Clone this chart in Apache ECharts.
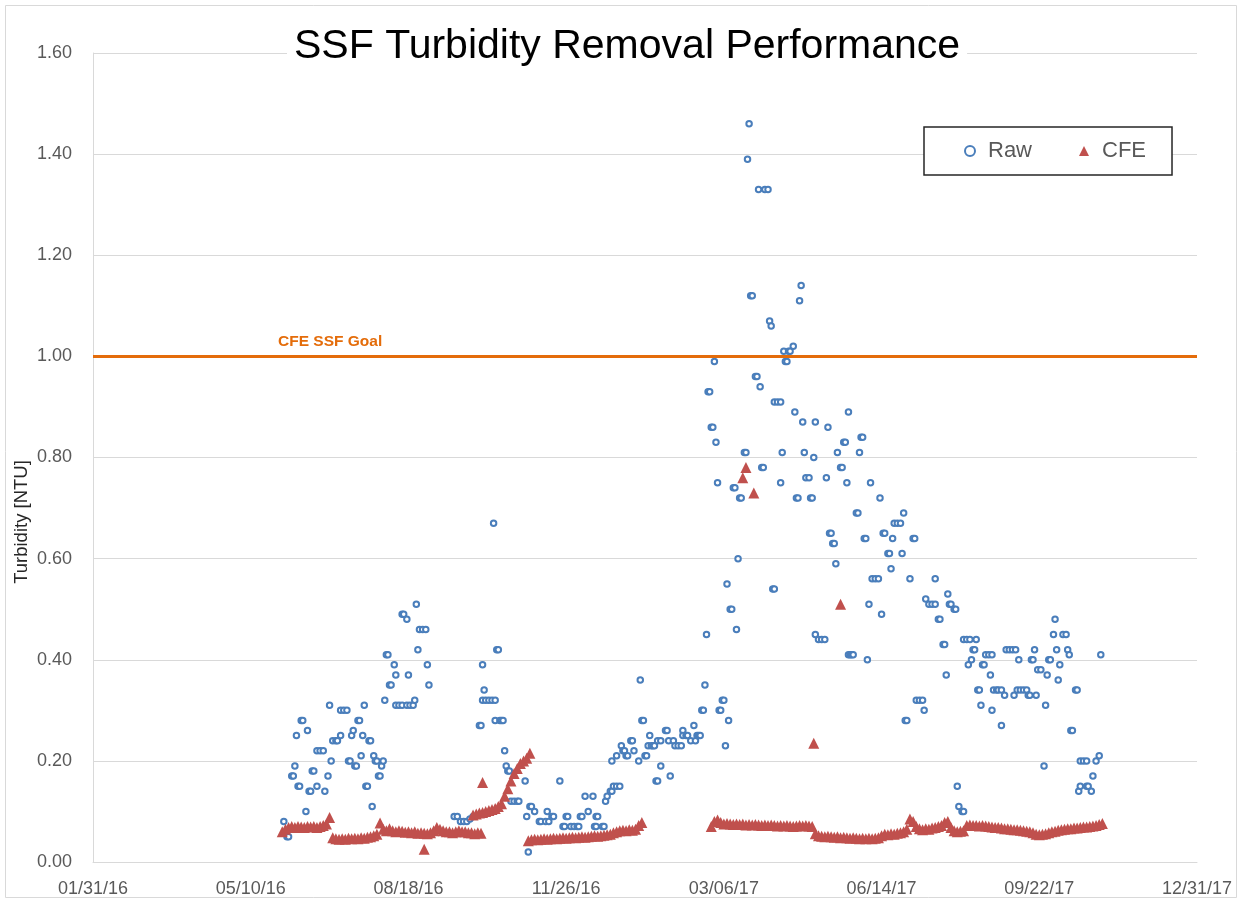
<!DOCTYPE html>
<html>
<head>
<meta charset="utf-8">
<title>SSF Turbidity Removal Performance</title>
<script src="https://cdn.jsdelivr.net/npm/echarts@6/dist/echarts.min.js"></script>
<style>
  html, body { margin: 0; padding: 0; background: #fff; }
  #chart { width: 1243px; height: 903px; }
</style>
</head>
<body>
<div id="chart"></div>
<script>
// dates are Excel serial day numbers (42400 = 01/31/16)
const xTicks = { min: 42400, max: 43100, step: 100 }
const yTicks = { min: 0, max: 1.6, step: 0.2 }
const goalValue = 1.0
const goalLabel = 'CFE SSF Goal'

// Raw turbidity samples
const rawDates = [
  42521, 42523, 42524, 42526, 42527, 42528, 42529, 42530, 42531, 42532, 42533, 42535, 42536, 42537, 42538, 42539,
  42540, 42542, 42542, 42544, 42546, 42547, 42549, 42550, 42551, 42552, 42554, 42555, 42557, 42557, 42559, 42561,
  42562, 42563, 42564, 42565, 42566, 42567, 42568, 42569, 42570, 42571, 42572, 42573, 42574, 42575, 42576, 42577,
  42578, 42579, 42580, 42581, 42582, 42583, 42584, 42585, 42586, 42587, 42588, 42589, 42591, 42592, 42592, 42594,
  42596, 42596, 42597, 42599, 42599, 42600, 42601, 42603, 42604, 42605, 42606, 42607, 42609, 42611, 42612, 42613,
  42629, 42631, 42633, 42635, 42637, 42639, 42641, 42645, 42646, 42647, 42647, 42648, 42649, 42651, 42653, 42654,
  42655, 42655, 42656, 42657, 42658, 42659, 42660, 42661, 42662, 42663, 42664, 42665, 42667, 42669, 42670, 42674,
  42675, 42676, 42677, 42678, 42680, 42683, 42684, 42687, 42688, 42689, 42691, 42692, 42696, 42698, 42699, 42700,
  42701, 42703, 42705, 42707, 42708, 42709, 42710, 42712, 42714, 42717, 42718, 42719, 42719, 42720, 42723, 42724,
  42725, 42726, 42728, 42729, 42729, 42730, 42732, 42732, 42734, 42735, 42736, 42737, 42738, 42739, 42741, 42742,
  42743, 42746, 42747, 42748, 42749, 42750, 42751, 42752, 42753, 42754, 42755, 42756, 42757, 42758, 42758, 42760,
  42760, 42763, 42764, 42765, 42766, 42768, 42769, 42771, 42773, 42774, 42774, 42776, 42777, 42779, 42781, 42782,
  42783, 42784, 42785, 42786, 42787, 42788, 42789, 42790, 42791, 42792, 42793, 42794, 42795, 42796, 42797, 42798,
  42799, 42800, 42801, 42802, 42803, 42804, 42805, 42806, 42807, 42808, 42809, 42810, 42811, 42813, 42814, 42815,
  42816, 42817, 42818, 42820, 42821, 42822, 42823, 42824, 42825, 42826, 42828, 42829, 42830, 42831, 42832, 42832,
  42834, 42836, 42836, 42837, 42838, 42839, 42840, 42841, 42842, 42844, 42845, 42846, 42847, 42848, 42849, 42850,
  42851, 42852, 42854, 42855, 42856, 42857, 42858, 42858, 42860, 42862, 42864, 42865, 42866, 42867, 42868, 42869,
  42870, 42871, 42872, 42874, 42875, 42876, 42877, 42878, 42879, 42879, 42880, 42881, 42882, 42884, 42885, 42886,
  42887, 42888, 42889, 42890, 42891, 42892, 42893, 42894, 42896, 42898, 42899, 42900, 42901, 42902, 42904, 42905,
  42906, 42907, 42908, 42910, 42912, 42913, 42914, 42915, 42916, 42918, 42920, 42921, 42922, 42924, 42926, 42927,
  42928, 42930, 42932, 42934, 42934, 42936, 42937, 42939, 42940, 42941, 42942, 42943, 42944, 42946, 42947, 42948,
  42949, 42951, 42952, 42952, 42954, 42955, 42956, 42957, 42958, 42959, 42960, 42961, 42962, 42963, 42964, 42965,
  42966, 42968, 42969, 42970, 42970, 42971, 42973, 42974, 42976, 42976, 42978, 42979, 42981, 42983, 42984, 42985,
  42986, 42987, 42988, 42990, 42992, 42993, 42994, 42995, 42996, 42997, 42998, 42999, 43001, 43003, 43004, 43005,
  43006, 43007, 43009, 43010, 43011, 43012, 43013, 43015, 43017, 43018, 43019, 43020, 43021, 43023, 43024, 43025,
  43026, 43026, 43028, 43030, 43030, 43031, 43033, 43034, 43036, 43038, 43039
]
const rawValues = [
  0.08, 0.05, 0.05, 0.17, 0.17, 0.19, 0.25, 0.15, 0.15, 0.28, 0.28, 0.10, 0.26, 0.14, 0.14, 0.18,
  0.18, 0.15, 0.22, 0.22, 0.22, 0.14, 0.17, 0.31, 0.20, 0.24, 0.24, 0.24, 0.25, 0.30, 0.30, 0.30,
  0.20, 0.20, 0.25, 0.26, 0.19, 0.19, 0.28, 0.28, 0.21, 0.25, 0.31, 0.15, 0.15, 0.24, 0.24, 0.11,
  0.21, 0.20, 0.20, 0.17, 0.17, 0.19, 0.20, 0.32, 0.41, 0.41, 0.35, 0.35, 0.39, 0.37, 0.31, 0.31,
  0.31, 0.49, 0.49, 0.48, 0.31, 0.37, 0.31, 0.31, 0.32, 0.51, 0.42, 0.46, 0.46, 0.46, 0.39, 0.35,
  0.09, 0.09, 0.08, 0.08, 0.08, 0.085, 0.09, 0.27, 0.27, 0.39, 0.32, 0.34, 0.32, 0.32, 0.32, 0.67,
  0.32, 0.28, 0.42, 0.42, 0.28, 0.28, 0.28, 0.22, 0.19, 0.18, 0.18, 0.12, 0.12, 0.12, 0.12, 0.16,
  0.09, 0.02, 0.11, 0.11, 0.10, 0.08, 0.08, 0.08, 0.10, 0.08, 0.09, 0.09, 0.16, 0.07, 0.07, 0.09,
  0.09, 0.07, 0.07, 0.07, 0.07, 0.09, 0.09, 0.13, 0.10, 0.13, 0.07, 0.07, 0.09, 0.09, 0.07, 0.07,
  0.12, 0.13, 0.14, 0.14, 0.20, 0.15, 0.15, 0.21, 0.15, 0.23, 0.22, 0.22, 0.21, 0.21, 0.24, 0.24,
  0.22, 0.20, 0.36, 0.28, 0.28, 0.21, 0.21, 0.23, 0.25, 0.23, 0.23, 0.23, 0.16, 0.16, 0.24, 0.19,
  0.24, 0.26, 0.26, 0.24, 0.17, 0.24, 0.23, 0.23, 0.23, 0.26, 0.25, 0.25, 0.25, 0.24, 0.27, 0.24,
  0.25, 0.25, 0.25, 0.30, 0.30, 0.35, 0.45, 0.93, 0.93, 0.86, 0.86, 0.99, 0.83, 0.75, 0.30, 0.30,
  0.32, 0.32, 0.23, 0.55, 0.28, 0.50, 0.50, 0.74, 0.74, 0.46, 0.60, 0.72, 0.72, 0.81, 0.81, 1.39,
  1.46, 1.12, 1.12, 0.96, 0.96, 1.33, 0.94, 0.78, 0.78, 1.33, 1.33, 1.07, 1.06, 0.54, 0.54, 0.91,
  0.91, 0.91, 0.75, 0.81, 1.01, 0.99, 0.99, 1.01, 1.01, 1.02, 0.89, 0.72, 0.72, 1.11, 1.14, 0.87,
  0.81, 0.76, 0.76, 0.72, 0.72, 0.80, 0.87, 0.45, 0.44, 0.44, 0.44, 0.76, 0.86, 0.65, 0.65, 0.63,
  0.63, 0.59, 0.81, 0.78, 0.78, 0.83, 0.83, 0.75, 0.89, 0.41, 0.41, 0.41, 0.41, 0.69, 0.69, 0.81,
  0.84, 0.84, 0.64, 0.64, 0.40, 0.51, 0.75, 0.56, 0.56, 0.56, 0.72, 0.49, 0.65, 0.65, 0.61, 0.61,
  0.58, 0.64, 0.67, 0.67, 0.67, 0.61, 0.69, 0.28, 0.28, 0.56, 0.64, 0.64, 0.32, 0.32, 0.32, 0.30,
  0.52, 0.51, 0.51, 0.51, 0.56, 0.48, 0.48, 0.43, 0.43, 0.37, 0.53, 0.51, 0.51, 0.50, 0.50, 0.15,
  0.11, 0.10, 0.10, 0.44, 0.44, 0.39, 0.44, 0.40, 0.42, 0.42, 0.44, 0.34, 0.34, 0.31, 0.39, 0.39,
  0.41, 0.41, 0.37, 0.41, 0.30, 0.34, 0.34, 0.34, 0.27, 0.34, 0.33, 0.42, 0.42, 0.42, 0.33, 0.42,
  0.34, 0.40, 0.34, 0.34, 0.34, 0.33, 0.33, 0.40, 0.40, 0.42, 0.33, 0.38, 0.38, 0.19, 0.31, 0.37,
  0.40, 0.40, 0.45, 0.48, 0.42, 0.36, 0.39, 0.45, 0.45, 0.42, 0.41, 0.26, 0.26, 0.34, 0.34, 0.14,
  0.15, 0.20, 0.20, 0.20, 0.15, 0.15, 0.14, 0.17, 0.20, 0.21, 0.41
]

// CFE turbidity, sampled every second day in continuous runs
const cfeStep = 2
const cfeRun1Start = 42520
const cfeRun1 = [
  0.060, 0.065, 0.068, 0.070, 0.068, 0.070, 0.069, 0.068, 0.070, 0.069,
  0.070, 0.068, 0.070, 0.072, 0.075, 0.088, 0.048, 0.046, 0.045, 0.046,
  0.045, 0.047, 0.046, 0.047, 0.046, 0.048, 0.047, 0.049, 0.050, 0.052,
  0.055, 0.077, 0.065, 0.062, 0.066, 0.062, 0.060, 0.062, 0.061, 0.059,
  0.060, 0.058, 0.060, 0.057, 0.058, 0.057, 0.056, 0.058, 0.062, 0.068,
  0.065, 0.062, 0.060, 0.060, 0.058, 0.060, 0.062, 0.060, 0.060, 0.058,
  0.058, 0.056, 0.058, 0.057
]
const cfeRun2Start = 42641
const cfeRun2 = [
  0.093, 0.095, 0.097, 0.098, 0.100, 0.102, 0.104, 0.106, 0.110, 0.115,
  0.130, 0.145, 0.160, 0.175, 0.185, 0.195, 0.200, 0.205, 0.215
]
const cfeRun3Start = 42676
const cfeRun3 = [
  0.042, 0.044, 0.045, 0.044, 0.045, 0.046, 0.045, 0.046, 0.047, 0.046,
  0.047, 0.048, 0.047, 0.048, 0.049, 0.048, 0.049, 0.050, 0.049, 0.050,
  0.051, 0.052, 0.051, 0.052, 0.053, 0.054, 0.055, 0.058, 0.060, 0.062,
  0.063, 0.062, 0.064, 0.063, 0.065, 0.072, 0.078
]
const cfeRun4Start = 42792
const cfeRun4 = [
  0.070, 0.080, 0.083, 0.078, 0.075, 0.076, 0.075, 0.074, 0.075, 0.074,
  0.075, 0.073, 0.074, 0.073, 0.074, 0.073, 0.072, 0.073, 0.072, 0.073,
  0.072, 0.071, 0.072, 0.071, 0.072, 0.071, 0.070, 0.071, 0.072, 0.071,
  0.072, 0.071, 0.070, 0.056, 0.052, 0.051, 0.050, 0.051, 0.050, 0.049,
  0.050, 0.048, 0.049, 0.048, 0.047, 0.048, 0.047, 0.046, 0.047, 0.046,
  0.047, 0.046, 0.047, 0.048, 0.052, 0.055, 0.054, 0.056, 0.055, 0.057,
  0.058, 0.060, 0.065, 0.085, 0.080, 0.070, 0.066, 0.064, 0.066, 0.065,
  0.067, 0.068, 0.070, 0.072, 0.078, 0.080, 0.068, 0.062, 0.060, 0.061,
  0.062, 0.072, 0.073, 0.072, 0.072, 0.071, 0.072, 0.071, 0.070, 0.069,
  0.068, 0.068, 0.067, 0.066, 0.066, 0.065, 0.064, 0.064, 0.063, 0.062,
  0.061, 0.060, 0.058, 0.055, 0.054, 0.055, 0.056, 0.058, 0.060, 0.061,
  0.063, 0.064, 0.065, 0.066, 0.066, 0.067, 0.067, 0.068, 0.069, 0.069,
  0.070, 0.071, 0.072, 0.074, 0.076
]
// isolated CFE readings
const cfeSpikeDates = [42610, 42647, 42812, 42814, 42819, 42857, 42874]
const cfeSpikeValues = [0.025, 0.157, 0.76, 0.78, 0.73, 0.235, 0.51]

const FONT = 'Liberation Sans'
const GREY_TEXT = '#595959'
const GRID_LINE = '#d9d9d9'

function serialToLabel(s) {
	const d = new Date(Date.UTC(1899, 11, 30) + s * 86400000)
	const pad = (n) => String(n).padStart(2, '0')
	return pad(d.getUTCMonth() + 1) + '/' + pad(d.getUTCDate()) + '/' + pad(d.getUTCFullYear() % 100)
}

const rawData = rawDates.map((d, i) => [ d, rawValues[i] ])

const cfeData = []
;[ [ cfeRun1Start, cfeRun1 ], [ cfeRun2Start, cfeRun2 ], [ cfeRun3Start, cfeRun3 ], [ cfeRun4Start, cfeRun4 ] ].forEach(
	([ start, vals ]) => {
		vals.forEach((v, i) => cfeData.push([ start + i * cfeStep, v ]))
	}
)
cfeSpikeDates.forEach((d, i) => cfeData.push([ d, cfeSpikeValues[i] ]))

const chart = echarts.init(document.getElementById('chart'), null, { renderer: 'canvas' })

const option = {
	animation: false,
	backgroundColor: '#fff',
	textStyle: { fontFamily: FONT },
	title: {
		text: 'SSF Turbidity Removal Performance',
		left: 287,
		top: 26,
		padding: [ 0, 7 ],
		backgroundColor: '#fff',
		textStyle: { fontFamily: FONT, fontSize: 41, fontWeight: 'normal', color: '#000' }
	},
	legend: {
		left: 924,
		top: 127,
		orient: 'horizontal',
		padding: [ 13, 26, 13, 40 ],
		itemGap: 47,
		itemWidth: 10,
		itemHeight: 10,
		borderColor: '#262626',
		borderWidth: 1.5,
		backgroundColor: '#fff',
		selectedMode: false,
		textStyle: { fontFamily: FONT, fontSize: 22, color: GREY_TEXT, padding: [ 0, 0, 0, 8 ], lineHeight: 22 },
		data: [
			{ name: 'Raw', icon: 'circle', itemStyle: { color: '#fff', borderColor: '#4a7ebb', borderWidth: 2 } },
			{ name: 'CFE', icon: 'triangle', itemStyle: { color: '#c0504d' } }
		]
	},
	grid: { left: 93, right: 46, top: 53, bottom: 41, containLabel: false },
	xAxis: {
		type: 'value',
		min: xTicks.min,
		max: xTicks.max,
		interval: xTicks.step,
		axisLine: { show: true, lineStyle: { color: GRID_LINE, width: 1 } },
		axisTick: { show: false },
		splitLine: { show: false },
		axisLabel: {
			margin: 18,
			fontSize: 18,
			color: GREY_TEXT,
			showMinLabel: true,
			showMaxLabel: true,
			formatter: serialToLabel
		}
	},
	yAxis: {
		type: 'value',
		min: yTicks.min,
		max: yTicks.max,
		interval: yTicks.step,
		axisLine: { show: true, lineStyle: { color: GRID_LINE, width: 1 } },
		axisTick: { show: false },
		splitLine: { show: true, lineStyle: { color: GRID_LINE, width: 1 } },
		axisLabel: { margin: 21, fontSize: 18, color: GREY_TEXT, formatter: (v) => v.toFixed(2) }
	},
	series: [
		{
			name: 'Raw',
			type: 'scatter',
			data: rawData,
			symbol: 'circle',
			symbolSize: 5.5,
			itemStyle: { color: '#fff', borderColor: '#4a7ebb', borderWidth: 2, opacity: 1 },
			z: 2,
			markLine: {
				silent: true,
				symbol: 'none',
				label: { show: false },
				lineStyle: { color: '#e46c0a', width: 3, type: 'solid' },
				data: [ { yAxis: goalValue } ]
			}
		},
		{
			name: 'CFE',
			type: 'scatter',
			data: cfeData,
			symbol: 'triangle',
			symbolSize: 11,
			itemStyle: { color: '#c0504d', opacity: 1 },
			z: 3
		}
	],
	graphic: [
		{
			type: 'rect',
			silent: true,
			shape: { x: 5.5, y: 5.5, width: 1231, height: 892 },
			style: { fill: 'none', stroke: GRID_LINE, lineWidth: 1 }
		},
		{
			type: 'text',
			silent: true,
			x: 22,
			y: 522,
			rotation: Math.PI / 2,
			style: {
				text: 'Turbidity [NTU]',
				fontFamily: FONT,
				fontSize: 18.5,
				fill: '#262626',
				textAlign: 'center',
				textVerticalAlign: 'middle'
			}
		},
		{
			type: 'text',
			silent: true,
			x: 278,
			y: 342,
			style: {
				text: goalLabel,
				fontFamily: FONT,
				fontSize: 15.5,
				fontWeight: 'bold',
				fill: '#e46c0a',
				textAlign: 'left',
				textVerticalAlign: 'middle'
			}
		}
	]
}

chart.setOption(option)
</script>
</body>
</html>
